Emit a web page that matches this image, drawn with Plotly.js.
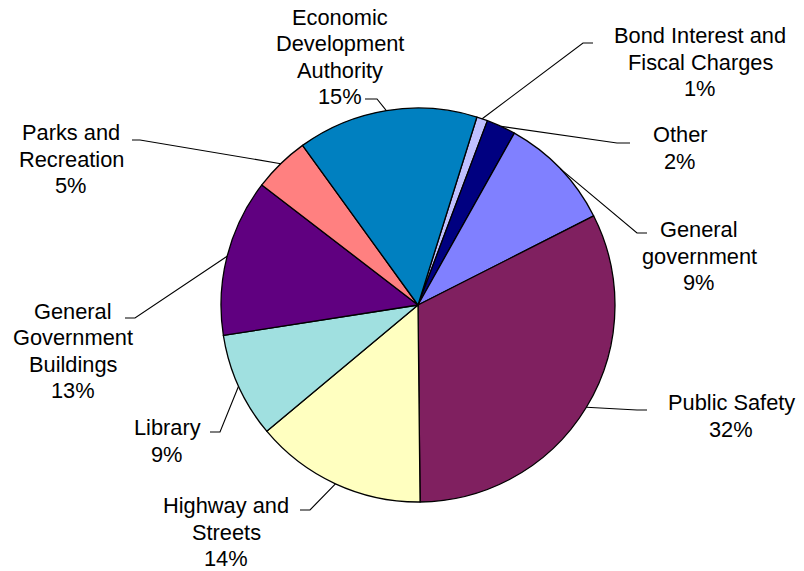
<!DOCTYPE html>
<html>
<head>
<meta charset="utf-8">
<script src="https://cdn.plot.ly/plotly-3.0.1.min.js"></script>
<style>html,body{margin:0;padding:0;background:#fff;}#chart{width:804px;height:571px;}</style>
</head>
<body>
<div id="chart"></div>
<script>
// ---- data ----
var categories = ["Bond Interest and Fiscal Charges", "Other", "General government", "Public Safety",
  "Highway and Streets", "Library", "General Government Buildings", "Parks and Recreation",
  "Economic Development Authority"];
var labelLines = ["Bond Interest and<br>Fiscal Charges", "Other", "General<br>government", "Public Safety",
  "Highway and<br>Streets", "Library", "General<br>Government<br>Buildings", "Parks and<br>Recreation",
  "Economic<br>Development<br>Authority"];
var values = [0.9, 2.4, 9.4, 32.3, 14.1, 8.6, 12.9, 4.6, 14.8];
var colors = ["#C0C0FF", "#000080", "#8080FF", "#802060", "#FFFFC0", "#A0E0E0", "#600080", "#FF8080", "#0080C0"];

// ---- layout constants (pixels) ----
var W = 804, H = 571;
var CX = 418, CY = 305, R = 197;
var ROT = 17.4;
var LINE_H = 26.3, FONT_SIZE = 21.8;
// label text centre, elbow and end of leader line
var labelPos = [
  {tx: 700, ty: 62,  ex: 583, ey: 43,  fx: 593, fy: 43},
  {tx: 680, ty: 148, ex: 617, ey: 143, fx: 630, fy: 143},
  {tx: 699, ty: 256, ex: 637, ey: 233, fx: 647, fy: 233},
  {tx: 731, ty: 416, ex: 637, ey: 410, fx: 647, fy: 410},
  {tx: 226, ty: 532, ex: 310, ey: 510, fx: 300, fy: 510},
  {tx: 167, ty: 441, ex: 220, ey: 432, fx: 210, fy: 432},
  {tx: 73,  ty: 351, ex: 135, ey: 318, fx: 125, fy: 318},
  {tx: 71,  ty: 159, ex: 140, ey: 140, fx: 132, fy: 140},
  {tx: 340, ty: 57,  ex: 377, ey: 99,  fx: 365, fy: 99}
];

function px(x) { return x / W; }
function py(y) { return 1 - y / H; }

var total = values.reduce(function (a, b) { return a + b; }, 0);
var annotations = [], shapes = [];
var cum = 0;
for (var i = 0; i < values.length; i++) {
  var mid = (ROT + (cum + values[i] / 2) / total * 360) * Math.PI / 180;
  cum += values[i];
  var sx = CX + R * Math.sin(mid), sy = CY - R * Math.cos(mid);
  var p = labelPos[i];
  shapes.push({
    type: 'path', xref: 'paper', yref: 'paper',
    path: 'M ' + px(sx) + ' ' + py(sy) + ' L ' + px(p.ex) + ' ' + py(p.ey) + ' L ' + px(p.fx) + ' ' + py(p.fy),
    line: {color: '#000000', width: 1.1}
  });
  var lines = labelLines[i].split('<br>');
  lines.push(Math.round(values[i] / total * 100) + '%');
  for (var k = 0; k < lines.length; k++) {
    var yy = p.ty + (k - (lines.length - 1) / 2) * LINE_H;
    annotations.push({
      xref: 'paper', yref: 'paper', x: px(p.tx), y: py(yy),
      xanchor: 'center', yanchor: 'middle', align: 'center', showarrow: false,
      borderpad: 0,
      text: lines[k],
      font: {family: 'Liberation Sans, Arial, sans-serif', size: FONT_SIZE, color: '#000000'}
    });
  }
}

var trace = {
  type: 'pie',
  labels: categories,
  values: values,
  sort: false,
  direction: 'clockwise',
  rotation: ROT,
  textinfo: 'none',
  hoverinfo: 'none',
  marker: {colors: colors, line: {color: '#000000', width: 1.3}},
  domain: {x: [px(CX - R), px(CX + R)], y: [py(CY + R), py(CY - R)]}
};

var layout = {
  width: W, height: H,
  margin: {l: 0, r: 0, t: 0, b: 0, pad: 0},
  showlegend: false,
  paper_bgcolor: '#ffffff',
  annotations: annotations,
  shapes: shapes
};

Plotly.newPlot('chart', [trace], layout, {displayModeBar: false, staticPlot: true});
</script>
</body>
</html>
